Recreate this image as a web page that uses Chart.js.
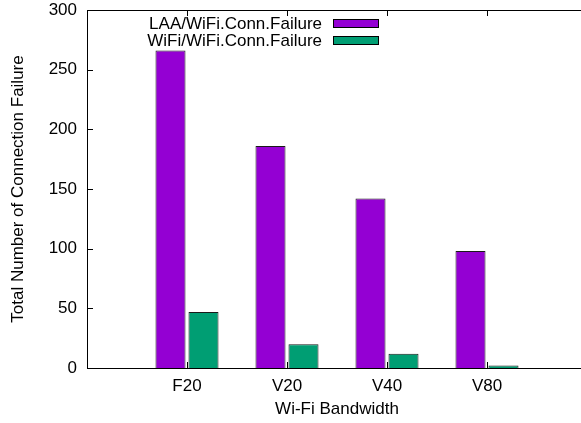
<!DOCTYPE html>
<html lang="en">

<head>
    <meta charset="UTF-8" />
    <title>Connection failures by Wi-Fi bandwidth</title>
    <script src="https://cdn.jsdelivr.net/npm/chart.js"></script>
    <style>
        html,
        body {
            margin: 0;
            padding: 0;
            background: #fff;
            overflow: hidden;
        }

        #wrap {
            width: 581px;
            height: 423px;
            overflow: hidden;
        }

        canvas {
            display: block;
        }
    </style>
</head>

<body>

    <div id="wrap">
        <canvas id="failChart" width="600" height="423"></canvas>
    </div>

    <script>
        const bandwidths = ['F20', 'V20', 'V40', 'V80'];
        const laaFailures = [266, 186, 142, 98];
        const wifiFailures = [47, 20, 12, 2];
        const seriesNames = ['LAA/WiFi.Conn.Failure', 'WiFi/WiFi.Conn.Failure'];
        const seriesColors = ['#9400d3', '#009e73'];
        const yTicks = [0, 50, 100, 150, 200, 250, 300];

        // gnuplot leaves an empty slot on each side of the clusters
        const labels = ['', ...bandwidths, ''];
        const pad = arr => [null, ...arr, null];

        const FONT = { family: "'Liberation Sans', Arial, sans-serif", size: 17 };

        // frame, inward ticks and the key, drawn the gnuplot way
        const gnuplotFrame = {
            id: 'gnuplotFrame',
            afterDatasetsDraw(chart) {
                const { ctx, chartArea: a, scales } = chart;
                ctx.save();
                ctx.strokeStyle = '#000';
                ctx.lineWidth = 1;
                ctx.strokeRect(a.left + 0.5, a.top + 0.5, a.right - a.left, a.bottom - a.top);

                ctx.beginPath();
                yTicks.forEach(v => {
                    const y = Math.round(scales.y.getPixelForValue(v)) + 0.5;
                    ctx.moveTo(a.left, y);
                    ctx.lineTo(a.left + 6, y);
                    ctx.moveTo(a.right, y);
                    ctx.lineTo(a.right - 6, y);
                });
                bandwidths.forEach((b, i) => {
                    const x = Math.round(scales.x.getPixelForValue(i + 1)) + 0.5;
                    ctx.moveTo(x, a.top);
                    ctx.lineTo(x, a.top + 6);
                    ctx.moveTo(x, a.bottom);
                    ctx.lineTo(x, a.bottom - 6);
                });
                ctx.stroke();

                // key
                ctx.font = `${FONT.size}px ${FONT.family}`;
                ctx.fillStyle = '#000';
                ctx.textAlign = 'right';
                ctx.textBaseline = 'middle';
                chart.data.datasets.forEach((ds, i) => {
                    const rowY = a.top + 13 + i * 17;
                    ctx.fillStyle = '#000';
                    ctx.fillText(ds.label, a.left + 235, rowY + 1);
                    ctx.fillStyle = ds.backgroundColor;
                    ctx.fillRect(a.left + 246, Math.round(rowY - 4.5), 46, 9);
                    ctx.strokeRect(a.left + 246.5, Math.round(rowY - 4.5) + 0.5, 45, 8);
                });
                ctx.restore();
            }
        };

        const ctx = document.getElementById('failChart').getContext('2d');

        new Chart(ctx, {
            type: 'bar',
            data: {
                labels: labels,
                datasets: [{
                    label: seriesNames[0],
                    data: pad(laaFailures),
                    backgroundColor: seriesColors[0],
                    borderColor: '#1a1a1a',
                    borderWidth: 1
                }, {
                    label: seriesNames[1],
                    data: pad(wifiFailures),
                    backgroundColor: seriesColors[1],
                    borderColor: '#1a1a1a',
                    borderWidth: 1
                }]
            },
            options: {
                responsive: false,
                animation: false,
                devicePixelRatio: 1,
                layout: {
                    padding: { top: 10, right: 13, left: 0, bottom: 0 }
                },
                plugins: {
                    legend: { display: false },
                    tooltip: { enabled: false }
                },
                datasets: {
                    bar: {
                        categoryPercentage: 0.66,
                        barPercentage: 0.91
                    }
                },
                scales: {
                    x: {
                        offset: false,
                        grid: { display: false, drawTicks: false },
                        border: { display: false },
                        ticks: {
                            color: '#000',
                            font: FONT,
                            padding: 8,
                            maxRotation: 0,
                            autoSkip: false
                        },
                        title: {
                            display: true,
                            text: 'Wi-Fi Bandwidth',
                            color: '#000',
                            font: FONT,
                            padding: { top: 0, bottom: 3 }
                        },
                        afterFit(scale) {
                            scale.height = 55;
                            scale.paddingLeft = 0;
                            scale.paddingRight = 0;
                        }
                    },
                    y: {
                        min: 0,
                        max: 300,
                        grid: { display: false, drawTicks: false },
                        border: { display: false },
                        ticks: {
                            stepSize: 50,
                            color: '#000',
                            font: FONT,
                            padding: 10
                        },
                        title: {
                            display: true,
                            text: 'Total Number of Connection Failure',
                            color: '#000',
                            font: FONT,
                            padding: { top: 8, bottom: 0 }
                        },
                        afterFit(scale) {
                            scale.width = 87;
                            scale.paddingTop = 0;
                            scale.paddingBottom = 0;
                        }
                    }
                }
            },
            plugins: [gnuplotFrame]
        });
    </script>
</body>

</html>
